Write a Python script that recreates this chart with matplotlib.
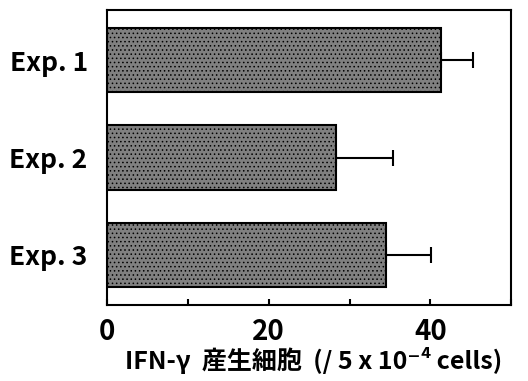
import matplotlib
matplotlib.use("Agg")
import matplotlib.pyplot as plt

plt.rcParams['font.family'] = ['Noto Sans CJK JP', 'DejaVu Sans']
plt.rcParams['hatch.linewidth'] = 0.6

labels = ["Exp. 1", "Exp. 2", "Exp. 3"]
values = [41.3, 28.3, 34.5]
errors = [4.0, 7.1, 5.6]

fig = plt.figure(figsize=(5.28, 3.81), dpi=100)
ax = fig.add_axes([0.203, 0.199, 0.765, 0.775])

pos = list(range(len(labels)))
ax.barh(pos, values, height=0.66, color="#808080", edgecolor="black",
        linewidth=1.5, hatch="....", zorder=2)
ax.errorbar(values, pos, xerr=[[0] * len(errors), errors], fmt="none",
            ecolor="black", elinewidth=1.5, capsize=6, capthick=1.5, zorder=1)

ax.set_xlim(0, 50)
ax.set_ylim(2.52, -0.52)
ax.set_yticks(pos)
ax.set_yticklabels(labels, fontsize=19, fontweight="bold")
ax.set_xticks([0, 20, 40])
ax.set_xticklabels(["0", "20", "40"], fontsize=20, fontweight="bold")
ax.set_xticks([10, 30, 50], minor=True)
ax.tick_params(axis="x", which="both", direction="in", length=4, width=1.5, pad=9)
ax.tick_params(axis="y", length=0, pad=14)
ax.set_xlabel("IFN-γ  産生細胞  (/ 5 x 10⁻⁴ cells)", fontsize=18,
              fontweight="bold", labelpad=1, x=0.51)
for s in ax.spines.values():
    s.set_linewidth(1.5)

fig.savefig("out.png", dpi=100)
